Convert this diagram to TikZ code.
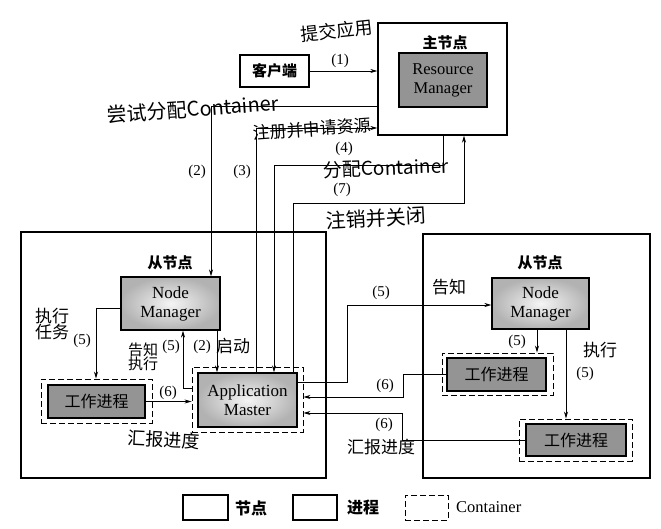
\documentclass[tikz,border=0pt]{standalone}
\usepackage{fontspec}
\setmainfont{Liberation Serif}
\newfontfamily\cjk{Noto Sans CJK SC}
\usetikzlibrary{arrows.meta}
\tikzset{
  nodebox/.style={draw, line width=1.4pt, inner sep=0pt},
  darkbox/.style={draw, line width=1.3pt, fill=black!42, inner sep=0pt, font=\cjk\fontsize{16}{18}\selectfont},
  lightbox/.style={draw, line width=1.3pt, inner sep=0pt, shading=radial, inner color=black!4, outer color=black!30, align=center, font=\fontsize{17}{19}\selectfont},
  contbox/.style={draw, dashed, line width=0.9pt, dash pattern=on 6pt off 3pt, inner sep=0pt},
  conn/.style={draw, line width=0.7pt, -{Stealth[length=7pt,width=4pt]}},
  lbl/.style={font=\fontsize{15}{16}\selectfont, inner sep=1pt},
  cnlbl/.style={font=\cjk\bfseries\fontsize{15}{17}\selectfont, inner sep=1pt},
  hand/.style={font=\cjk\fontsize{18}{20}\selectfont, inner sep=0pt, align=center},
  handsm/.style={font=\cjk\fontsize{15}{16}\selectfont, inner sep=0pt, align=center},
}
\begin{document}
\begin{tikzpicture}[x=1pt,y=-1pt]
\useasboundingbox (0,0) rectangle (661,529);
% boxes
\node[nodebox, minimum width=69pt, minimum height=32pt, font=\cjk\bfseries\fontsize{15}{16}\selectfont] (client) at (274.5,71) {客户端};
\node[nodebox, minimum width=129pt, minimum height=112pt] (master) at (442.5,79) {};
\node[cnlbl] (mlabel) at (445,43) {主节点};
\node[draw, line width=1.3pt, fill=black!42, inner sep=0pt, minimum width=88pt, minimum height=54pt, align=center, font=\fontsize{16.5}{19}\selectfont] (rm) at (443,80) {Resource\\Manager};

\node[nodebox, minimum width=305pt, minimum height=246pt] (lslave) at (173.5,355) {};
\node[nodebox, minimum width=227pt, minimum height=244pt] (rslave) at (536.5,356) {};
\node[cnlbl] (llabel) at (170,263) {从节点};
\node[cnlbl] (rlabel) at (540,263) {从节点};

\node[lightbox, minimum width=99pt, minimum height=53pt] (lnm) at (170.5,303.5) {Node\\Manager};
\node[contbox, minimum width=111pt, minimum height=44pt] (lwc) at (96.5,401) {};
\node[darkbox, minimum width=97pt, minimum height=33pt] (lw) at (96.5,401.5) {工作进程};
\node[contbox, minimum width=111pt, minimum height=65pt] (amc) at (247.5,399.5) {};
\node[lightbox, minimum width=99pt, minimum height=54pt] (am) at (247.5,400) {Application\\Master};

\node[lightbox, minimum width=97pt, minimum height=51pt] (rnm) at (540.5,303.5) {Node\\Manager};
\node[contbox, minimum width=111pt, minimum height=42pt] (rw1c) at (497.5,374) {};
\node[darkbox, minimum width=99pt, minimum height=33pt] (rw1) at (496.5,374.5) {工作进程};
\node[contbox, minimum width=113pt, minimum height=42pt] (rw2c) at (575.5,440) {};
\node[darkbox, minimum width=100pt, minimum height=32pt] (rw2) at (576,440) {工作进程};

% connectors
\draw[conn] (client.east) -- (client.east -| master.west);
\draw[conn] (master.west |- 0,106) -- (211,106) -- (211,0 |- lnm.north);
\draw[conn] (256,0 |- am.north) |- (master.west |- 0,128);
\draw[conn] (master.south -| 443,0) |- (274,165) -- (274,0 |- am.north);
\draw[conn] (293,0 |- am.north) |- (464,203) -- (464,0 |- master.south);
\draw[conn] (217,0 |- lnm.south) -- (217,0 |- am.north);
\draw[conn] (amc.west |- 0,388) -| (183,0 |- lnm.south);
\draw[conn] (lnm.west |- 0,308) -| (96,0 |- lwc.north);
\draw[conn] (lw.east) -- (amc.west |- lw.east);
\draw[conn] (am.east |- 0,382) -| (347,305) -- (rnm.west |- 0,305);
\draw[conn] (rw1.west) -| (403,397) -- (amc.east |- 0,397);
\draw[conn] (rw2.west) -| (402,413) -- (amc.east |- 0,413);
\draw[conn] (537,0 |- rnm.south) -- (537,0 |- rw1c.north);
\draw[conn] (566,0 |- rnm.south) -- (566,0 |- rw2c.north);

% printed labels
\node[lbl] (l1) at (340,61) {(1)};
\node[lbl] (l2) at (197,172) {(2)};
\node[lbl] (l3) at (242,172) {(3)};
\node[lbl] (l4) at (344,149) {(4)};
\node[lbl] (l7) at (342,190) {(7)};
\node[lbl] (l2b) at (202,347) {(2)};
\node[lbl] (l5a) at (171,347) {(5)};
\node[lbl] (l5b) at (82,341) {(5)};
\node[lbl] (l6a) at (168,393) {(6)};
\node[lbl] (l5c) at (381,293) {(5)};
\node[lbl] (l6b) at (385,386) {(6)};
\node[lbl] (l6c) at (384,425) {(6)};
\node[lbl] (l5d) at (517,342) {(5)};
\node[lbl] (l5e) at (585,374) {(5)};

% handwritten notes
\node[hand, rotate=6] (h1) at (337,31) {提交应用};
\node[hand, rotate=4, font=\cjk\fontsize{20}{22}\selectfont] (h2) at (193,109) {尝试分配Container};
\node[hand, rotate=4, font=\cjk\fontsize{17}{19}\selectfont] (h3) at (312,129) {注册并申请资源};
\node[hand, rotate=2, font=\cjk\fontsize{19}{21}\selectfont] (h4) at (386,168) {分配Container};
\node[hand, rotate=3, font=\cjk\fontsize{20}{22}\selectfont] (h5) at (376,218) {注销并关闭};
\node[hand, font=\cjk\fontsize{17}{18}\selectfont] (h6) at (52,324) {执行\\[-2pt]任务};
\node[handsm] (h7) at (143,357) {告知\\[-2pt]执行};
\node[handsm, font=\cjk\fontsize{17}{18}\selectfont] (h8) at (233,346) {启动};
\node[hand, rotate=-3] (h9) at (164,440) {汇报进度};
\node[handsm, font=\cjk\fontsize{17}{18}\selectfont] (h10) at (449,287) {告知};
\node[handsm, font=\cjk\fontsize{17}{18}\selectfont] (h11) at (600,350) {执行};
\node[handsm, font=\cjk\fontsize{17}{18}\selectfont] (h12) at (381,447) {汇报进度};

% legend
\node[nodebox, minimum width=45pt, minimum height=25pt] (lg1) at (205.5,507.5) {};
\node[font=\cjk\bfseries\fontsize{16}{18}\selectfont, anchor=west, inner sep=0pt] (lg1t) at (235,508) {节点};
\node[nodebox, minimum width=44pt, minimum height=25pt] (lg2) at (315,507.5) {};
\node[font=\cjk\bfseries\fontsize{16}{18}\selectfont, anchor=west, inner sep=0pt] (lg2t) at (347,508) {进程};
\node[contbox, minimum width=43pt, minimum height=25pt] (lg3) at (426.5,507.5) {};
\node[font=\fontsize{16.5}{18}\selectfont, anchor=west, inner sep=0pt] (lg3t) at (456,507) {Container};
\end{tikzpicture}
\end{document}
